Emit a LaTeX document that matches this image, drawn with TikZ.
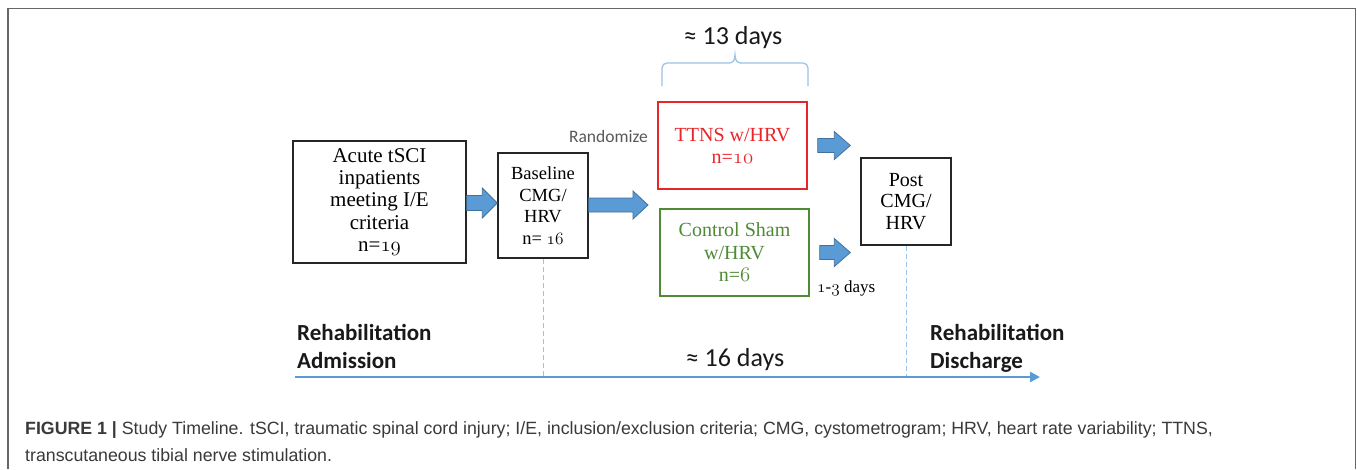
\documentclass[tikz,border=0pt]{standalone}
\usepackage{fontspec}
\setmainfont{Liberation Serif}
\newfontfamily\calfont{Carlito}
\newfontfamily\capfont{Liberation Sans}
\usetikzlibrary{calc,arrows.meta}
\newcommand\osn[1]{{\usefont{OML}{cmm}{m}{it}#1}}
\definecolor{arrowfill}{HTML}{5B9BD5}
\definecolor{arrowedge}{HTML}{41719C}
\definecolor{dashblue}{HTML}{9DC3E6}
\definecolor{ttnsred}{HTML}{E8262A}
\definecolor{shamgreen}{HTML}{4F8A35}
\definecolor{capgray}{HTML}{3A3A3A}
\newcommand\blockarrow[5]{% start, end, head length, shaft half, head half
  \filldraw[fill=arrowfill,draw=arrowedge,line width=0.8pt]
    let \p1=(#1), \p2=(#2) in
    (\x1,\y1+#4) -- (\x2-#3,\y1+#4) -- (\x2-#3,\y1+#5) -- (\x2,\y1)
    -- (\x2-#3,\y1-#5) -- (\x2-#3,\y1-#4) -- (\x1,\y1-#4) -- cycle;}
\tikzset{
  box/.style={draw=black!85,line width=1.4pt,inner sep=0pt,align=center},
  dashline/.style={draw=dashblue,line width=1pt,dash pattern=on 5pt off 3pt},
  timeline/.style={draw=arrowfill,line width=2.6pt,-{Triangle[length=10pt,width=10pt]}},
  caltext/.style={font=\calfont\fontsize{26}{30}\selectfont,inner sep=0pt,text=black!90},
  rehab/.style={font=\calfont\bfseries\fontsize{23}{28}\selectfont,inner sep=0pt,align=left,text=black!90},
  captext/.style={anchor=base west,inner sep=0pt,font=\capfont\fontsize{17.75}{20}\selectfont,text=capgray},
}
\begin{document}
\begin{tikzpicture}[x=1pt,y=-1pt]
\useasboundingbox (0,0) rectangle (1357,469);
\fill[white] (0,0) rectangle (1357,469);
\draw[draw=black!60,line width=1.5pt] (8,469) -- (8,8.5) -- (1355.5,8.5) -- (1355.5,469);

% boxes
\node[box,minimum width=173pt,minimum height=122pt,font=\fontsize{21}{22.3}\selectfont]
  (acute) at (379.5,202) {Acute tSCI\\inpatients\\meeting I/E\\criteria\\n=\osn{19}};
\node[box,minimum width=90pt,minimum height=105pt,font=\fontsize{18.5}{21.8}\selectfont]
  (base) at (543,205.5) {Baseline\\CMG/\\HRV\\n= \osn{16}};
\node[box,draw=ttnsred,text=ttnsred,minimum width=149pt,minimum height=87pt,font=\fontsize{20}{22}\selectfont]
  (ttns) at (732.5,145.5) {TTNS w/HRV\\n=\osn{10}};
\node[box,draw=shamgreen,text=shamgreen,minimum width=149pt,minimum height=87pt,font=\fontsize{20}{22.5}\selectfont]
  (ctrl) at (734.5,252.5) {Control Sham\\w/HRV\\n=\osn{6}};
\node[box,minimum width=90pt,minimum height=87pt,font=\fontsize{20}{21.5}\selectfont]
  (post) at (906,201.5) {Post\\CMG/\\HRV};

% level coordinates
\coordinate (y1) at (0,203);
\coordinate (y2) at (0,205);
\coordinate (split) at (648,205);
\coordinate (tl0) at (295,377);
\coordinate (tl1) at (1040,377);

% block arrows
\blockarrow{acute.east |- y1}{base.west |- y1}{15}{7.5}{15}
\blockarrow{base.east |- y2}{split}{15}{7}{14}
\blockarrow{$(ttns.east)+(10,0)$}{$(post.west |- ttns.east)+(-10,0)$}{16}{7}{14}
\blockarrow{$(ctrl.east)+(10,0)$}{$(post.west |- ctrl.east)+(-10,0)$}{16}{7}{14}

% timeline
\draw[dashline] (base.south) -- (base.south |- tl0);
\draw[dashline] (post.south) -- (post.south |- tl0);
\draw[timeline] (tl0) -- (tl1);

% brace
\draw[draw=dashblue,line width=1.3pt]
  (662,86) -- (662,68) to[out=90,in=180] (667,63) -- (729,63)
  .. controls (733,63) and (735,60) .. (735,55)
  .. controls (735,60) and (737,63) .. (741,63)
  -- (803,63) to[out=0,in=90] (808,68) -- (808,86);

% labels
\node[caltext] (d13) at (733,38) {≈ 13 days};
\node[caltext] (d16) at (735,360) {≈ 16 days};
\node[inner sep=0pt,anchor=east,font=\calfont\fontsize{17.5}{20}\selectfont,text=black!65] (rand) at (648,136) {Randomize};
\node[inner sep=0pt,anchor=west,font=\fontsize{17}{20}\selectfont] (days13) at (817,288) {\osn{1}-\osn{3} days};
\node[rehab,anchor=west] (adm) at (297,346) {Rehabilitation\\Admission};
\node[rehab,anchor=west] (dis) at (930,348) {Rehabilitation\\Discharge};

% caption
\node[captext] (cap1) at (25,434)
  {\textbf{FIGURE 1 |} Study Timeline. tSCI, traumatic spinal cord injury; I/E, inclusion/exclusion criteria; CMG, cystometrogram; HRV, heart rate variability; TTNS,};
\node[captext] (cap2) at (25,461)
  {transcutaneous tibial nerve stimulation.};
\end{tikzpicture}
\end{document}
